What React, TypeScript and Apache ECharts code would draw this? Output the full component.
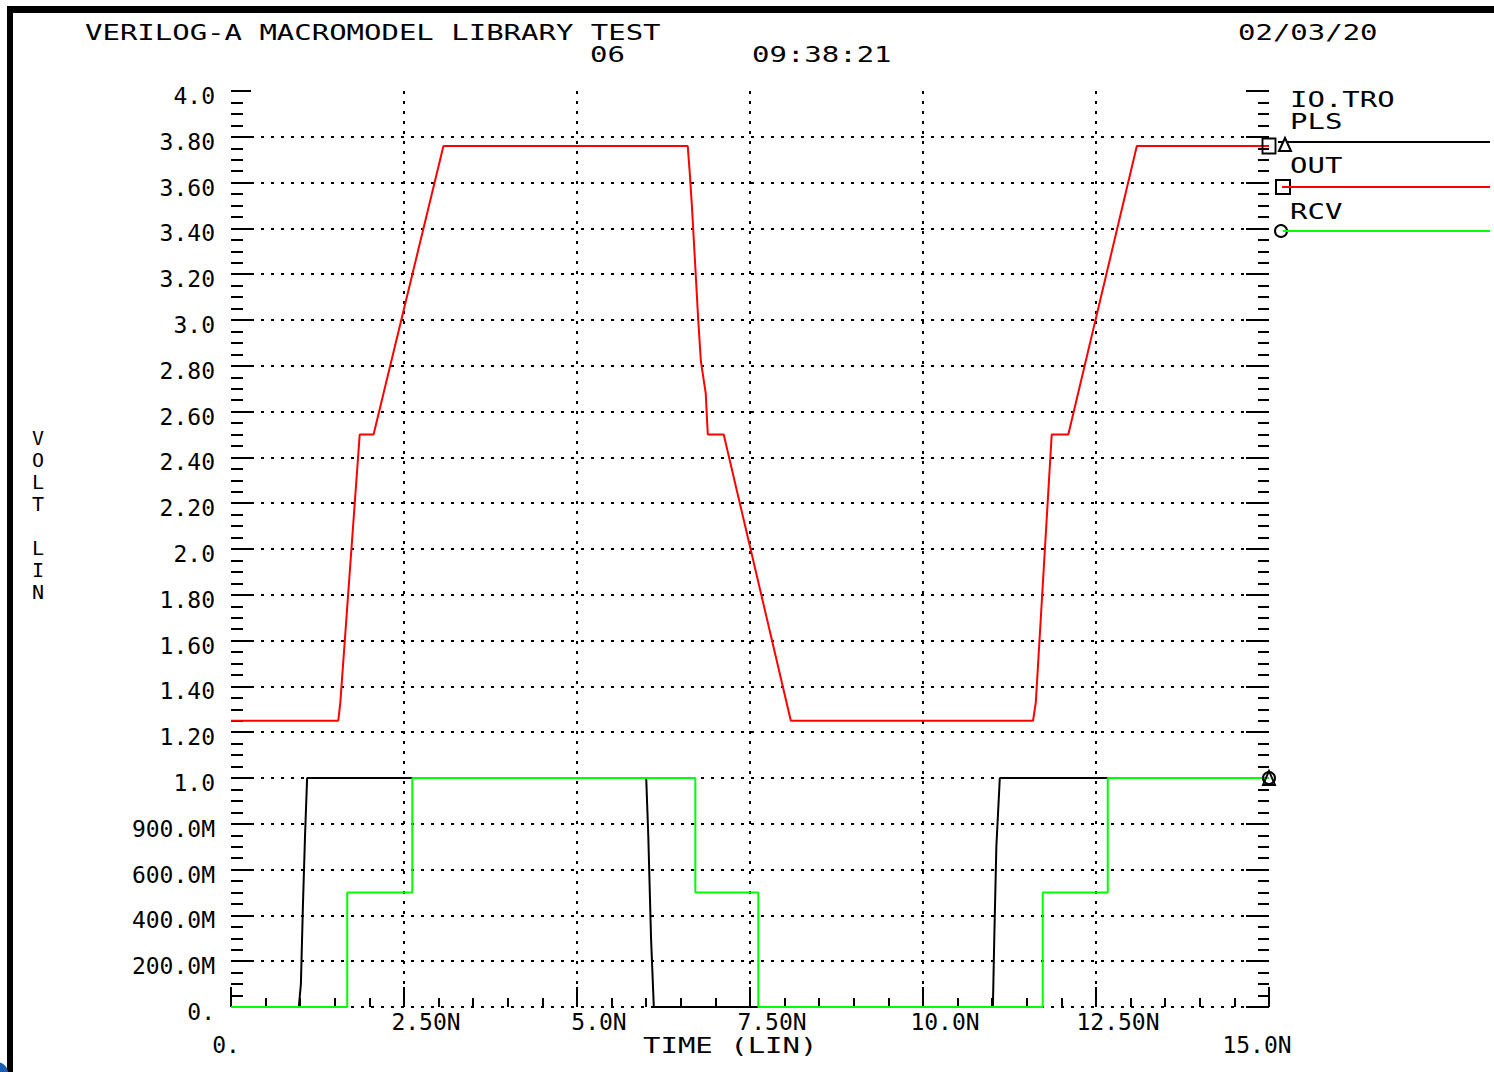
import React, { useEffect, useRef } from "react";
import * as echarts from "echarts";

// ---- tick labels ----
const xTickLabels = ["0.", "2.50N", "5.0N", "7.50N", "10.0N", "12.50N", "15.0N"];
const yTickLabels = [
  "0.", "200.0M", "400.0M", "600.0M", "900.0M", "1.0",
  "1.20", "1.40", "1.60", "1.80", "2.0",
  "2.20", "2.40", "2.60", "2.80", "3.0",
  "3.20", "3.40", "3.60", "3.80", "4.0",
];

// ---- series (time in ns, volts) ----
const plsTime = [0, 0.98, 1.01, 1.04, 1.07, 1.10, 6.0, 6.03, 6.07, 6.11, 11.01, 11.03, 11.06, 11.11, 15];
const plsVolt = [0, 0, 0.1, 0.45, 0.75, 1.0, 1.0, 0.75, 0.3, 0, 0, 0.3, 0.7, 1.0, 1.0];

const outTime = [0, 1.55, 1.58, 1.86, 2.06, 3.07, 6.6, 6.63, 6.66, 6.71, 6.75, 6.79, 6.86, 6.89, 7.12, 8.09, 11.59, 11.63, 11.86, 12.1, 13.09, 15];
const outVolt = [1.25, 1.25, 1.33, 2.5, 2.5, 3.76, 3.76, 3.64, 3.5, 3.23, 3.01, 2.82, 2.68, 2.5, 2.5, 1.25, 1.25, 1.33, 2.5, 2.5, 3.76, 3.76];

const rcvTime = [0, 1.68, 1.68, 2.62, 2.62, 6.71, 6.71, 7.62, 7.62, 11.73, 11.73, 12.67, 12.67, 15];
const rcvVolt = [0, 0, 0.5, 0.5, 1.0, 1.0, 0.5, 0.5, 0, 0, 0.5, 0.5, 1.0, 1.0];

const seriesNames = ["PLS", "OUT", "RCV"];

const pairs = (t: number[], v: number[]) => t.map((x, i) => [x, v[i]]);
const last = (a: number[]) => a[a.length - 1];

export default function App() {
  const ref = useRef<HTMLDivElement>(null);
  useEffect(() => {
    const chart = echarts.init(ref.current!, undefined, { renderer: "svg" });
    const mono = "'DejaVu Sans Mono', 'Liberation Mono', monospace";
    const gridLine = { type: [3, 7], color: "#000", width: 2 };
    const tickStyle = { color: "#000", width: 2 };
    const sx = 1.38;

    const txt = (text: string, x: number, y: number) => ({
      type: "text",
      x,
      y,
      scaleX: sx,
      silent: true,
      style: {
        text,
        fill: "#000",
        fontSize: 21,
        fontFamily: mono,
        textAlign: "left",
        textVerticalAlign: "middle",
      },
    });

    const xIdx = (v: number) => Math.round(v / 2.5);

    const option: any = {
      animation: false,
      backgroundColor: "#fff",
      grid: { left: 231, right: 225, top: 91, bottom: 65, containLabel: false },
      xAxis: {
        type: "value",
        min: 0,
        max: 15,
        interval: 2.5,
        axisLine: { show: false },
        axisTick: { show: true, inside: true, length: 20, lineStyle: tickStyle },
        minorTick: { show: true, splitNumber: 5, length: 9, lineStyle: tickStyle },
        splitLine: { show: true, showMinLine: false, showMaxLine: false, lineStyle: gridLine },
        axisLabel: {
          margin: 3,
          color: "#000",
          fontFamily: mono,
          fontSize: 23,
          lineHeight: 23,
          formatter: (v: number) => {
            const i = xIdx(v);
            const s = xTickLabels[i];
            if (i === 0) return "\n{z|" + s + "}";
            if (i === xTickLabels.length - 1) return "\n{f|" + s + "}";
            return "{n|" + s + "}";
          },
          rich: {
            n: { fontFamily: mono, fontSize: 23, color: "#000", padding: [0, 0, 0, 44], lineHeight: 23 },
            z: { fontFamily: mono, fontSize: 23, color: "#000", padding: [0, 10, 0, 0], lineHeight: 23 },
            f: { fontFamily: mono, fontSize: 23, color: "#000", padding: [0, 24, 0, 0], lineHeight: 23 },
          },
        },
      },
      yAxis: [
        {
          type: "value",
          min: 0,
          max: 4,
          interval: 0.2,
          axisLine: { show: false },
          axisTick: { show: true, inside: true, length: 20, lineStyle: tickStyle },
          minorTick: { show: true, splitNumber: 4, length: 12, lineStyle: tickStyle },
          splitLine: { show: true, showMinLine: true, showMaxLine: false, lineStyle: gridLine },
          axisLabel: {
            margin: 16,
            color: "#000",
            fontFamily: mono,
            fontSize: 23,
            verticalAlign: "top",
            lineHeight: 10,
            formatter: (v: number) => yTickLabels[Math.round(v / 0.2)],
          },
        },
        {
          type: "value",
          position: "right",
          min: 0,
          max: 4,
          interval: 0.2,
          axisLine: { show: false },
          axisTick: { show: true, inside: true, length: 23, lineStyle: tickStyle },
          minorTick: { show: true, splitNumber: 4, length: 11, lineStyle: tickStyle },
          splitLine: { show: false },
          axisLabel: { show: false },
        },
      ],
      series: [
        {
          name: seriesNames[1],
          type: "line",
          data: pairs(outTime, outVolt),
          showSymbol: false,
          symbol: "none",
          clip: false,
          lineStyle: { color: "#ff0000", width: 2 },
          itemStyle: { color: "#ff0000" },
          markPoint: {
            symbol: "rect",
            symbolSize: [13, 15],
            silent: true,
            label: { show: false },
            itemStyle: { color: "rgba(0,0,0,0)", borderColor: "#000", borderWidth: 2 },
            data: [{ coord: [last(outTime), last(outVolt)] }],
          },
        },
        {
          name: seriesNames[0],
          type: "line",
          data: pairs(plsTime, plsVolt),
          showSymbol: false,
          symbol: "none",
          clip: false,
          lineStyle: { color: "#000", width: 2 },
          itemStyle: { color: "#000" },
          markPoint: {
            symbol: "triangle",
            symbolSize: [12, 14],
            silent: true,
            label: { show: false },
            itemStyle: { color: "rgba(0,0,0,0)", borderColor: "#000", borderWidth: 2 },
            data: [{ coord: [last(plsTime), last(plsVolt)] }],
          },
        },
        {
          name: seriesNames[2],
          type: "line",
          data: pairs(rcvTime, rcvVolt),
          showSymbol: false,
          symbol: "none",
          clip: false,
          lineStyle: { color: "#00ff00", width: 2 },
          itemStyle: { color: "#00ff00" },
          markPoint: {
            symbol: "circle",
            symbolSize: 12,
            silent: true,
            label: { show: false },
            itemStyle: { color: "rgba(0,0,0,0)", borderColor: "#000", borderWidth: 2 },
            data: [{ coord: [last(rcvTime), last(rcvVolt)] }],
          },
        },
      ],
      graphic: [
        // frame
        { type: "rect", silent: true, shape: { x: 7, y: 6, width: 6, height: 1066 }, style: { fill: "#000" } },
        { type: "rect", silent: true, shape: { x: 7, y: 6, width: 1487, height: 7 }, style: { fill: "#000" } },
        { type: "circle", silent: true, shape: { cx: -3, cy: 1073, r: 11 }, style: { fill: "#1c5fae" } },
        // header texts
        txt("VERILOG-A MACROMODEL LIBRARY TEST", 85, 33),
        txt("06", 590, 55),
        txt("09:38:21", 752, 55),
        txt("02/03/20", 1238, 33),
        txt("TIME (LIN)", 643, 1046),
        {
          type: "text",
          x: 38,
          y: 427,
          silent: true,
          style: {
            text: "V\nO\nL\nT\n\nL\nI\nN",
            fill: "#000",
            fontSize: 20,
            fontFamily: mono,
            lineHeight: 22,
            textAlign: "center",
            textVerticalAlign: "top",
          },
        },
        // legend
        txt("IO.TRO", 1290, 100),
        txt(seriesNames[0], 1290, 122),
        txt(seriesNames[1], 1290, 166),
        txt(seriesNames[2], 1290, 212),
        { type: "line", silent: true, shape: { x1: 1278, y1: 142, x2: 1490, y2: 142 }, style: { stroke: "#000", lineWidth: 2 } },
        { type: "polygon", silent: true, shape: { points: [[1279, 151], [1285, 138], [1291, 151]] }, style: { fill: "#fff", stroke: "#000", lineWidth: 2 } },
        { type: "rect", silent: true, shape: { x: 1276, y: 180, width: 14, height: 14 }, style: { fill: "none", stroke: "#000", lineWidth: 2 } },
        { type: "line", silent: true, shape: { x1: 1282, y1: 187, x2: 1490, y2: 187 }, style: { stroke: "#ff0000", lineWidth: 2 } },
        { type: "circle", silent: true, shape: { cx: 1281, cy: 231, r: 6 }, style: { fill: "none", stroke: "#000", lineWidth: 2 } },
        { type: "line", silent: true, shape: { x1: 1283, y1: 231, x2: 1490, y2: 231 }, style: { stroke: "#00ff00", lineWidth: 2 } },
      ],
    };
    chart.setOption(option);
    return () => chart.dispose();
  }, []);
  return (
    <div
      ref={ref}
      style={{ position: "fixed", left: 0, top: 0, width: 1494, height: 1072, background: "#fff" }}
    />
  );
}
